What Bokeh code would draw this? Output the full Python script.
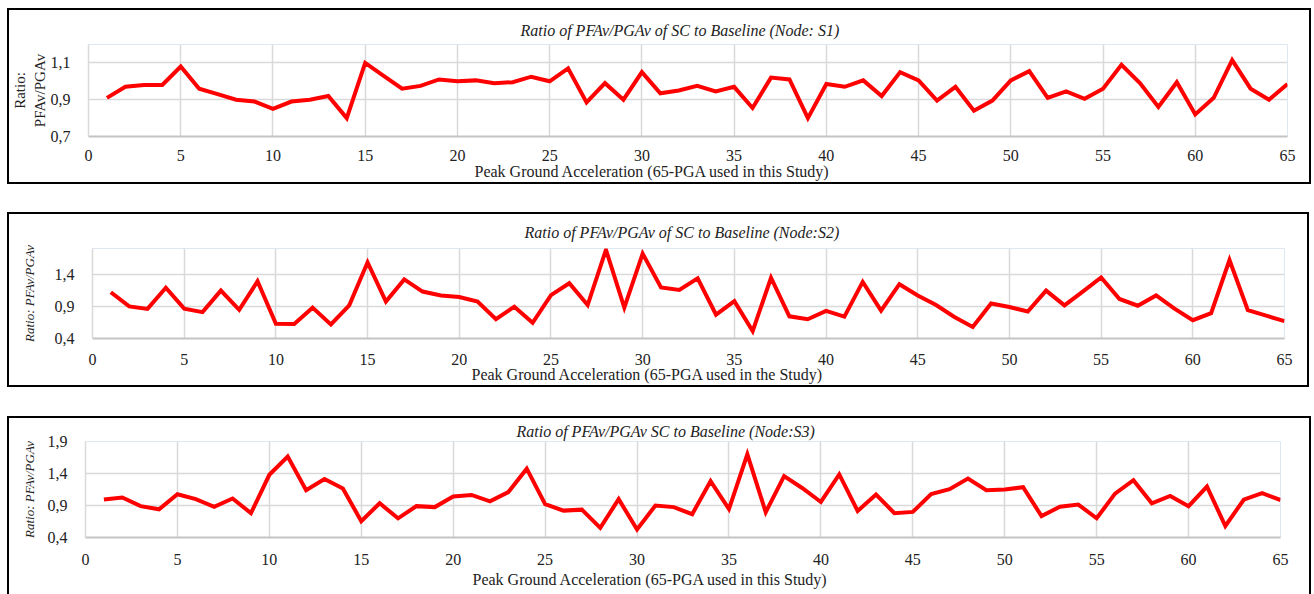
from bokeh.plotting import figure
from bokeh.models import Range1d, FixedTicker, CustomJSTickFormatter, Title
from bokeh.embed import file_html
from bokeh.resources import INLINE

pga = list(range(1, 66))

s1 = [0.91, 0.97, 0.98, 0.98, 1.08, 0.96, 0.93, 0.90, 0.89, 0.85,
      0.89, 0.90, 0.92, 0.80, 1.10, 1.03, 0.96, 0.975, 1.01, 1.00,
      1.005, 0.99, 0.995, 1.025, 1.00, 1.07, 0.885, 0.99, 0.90, 1.05,
      0.935, 0.95, 0.975, 0.945, 0.97, 0.855, 1.02, 1.01, 0.80, 0.985,
      0.97, 1.005, 0.92, 1.05, 1.005, 0.895, 0.97, 0.84, 0.895, 1.005,
      1.055, 0.91, 0.945, 0.905, 0.96, 1.09, 0.99, 0.86, 0.995, 0.82,
      0.91, 1.115, 0.96, 0.90, 0.985]

s2 = [1.12, 0.90, 0.86, 1.19, 0.865, 0.81, 1.145, 0.845, 1.29, 0.63,
      0.625, 0.88, 0.62, 0.915, 1.585, 0.975, 1.32, 1.13, 1.07, 1.045,
      0.975, 0.70, 0.895, 0.645, 1.075, 1.26, 0.92, 1.78, 0.88, 1.72,
      1.195, 1.155, 1.335, 0.77, 0.98, 0.515, 1.345, 0.745, 0.70, 0.83,
      0.74, 1.28, 0.835, 1.245, 1.07, 0.92, 0.735, 0.58, 0.945, 0.89,
      0.82, 1.145, 0.915, 1.13, 1.35, 1.015, 0.91, 1.07, 0.865, 0.685,
      0.795, 1.62, 0.84, 0.755, 0.67]

s3 = [0.995, 1.025, 0.89, 0.84, 1.075, 1.0, 0.88, 1.01, 0.78, 1.38,
      1.665, 1.14, 1.315, 1.165, 0.655, 0.935, 0.70, 0.89, 0.875, 1.04,
      1.065, 0.965, 1.11, 1.475, 0.92, 0.82, 0.835, 0.55, 1.0, 0.525,
      0.90, 0.875, 0.765, 1.28, 0.845, 1.70, 0.795, 1.36, 1.17, 0.955,
      1.385, 0.815, 1.07, 0.78, 0.80, 1.08, 1.155, 1.32, 1.14, 1.15,
      1.185, 0.735, 0.88, 0.915, 0.70, 1.085, 1.295, 0.935, 1.05, 0.89,
      1.195, 0.58, 0.99, 1.095, 0.985]

titles = ["Ratio of PFAv/PGAv of  SC to Baseline (Node: S1)",
          "Ratio of PFAv/PGAv of  SC to Baseline (Node:S2)",
          "Ratio of PFAv/PGAv SC to Baseline (Node:S3)"]
xlabels = ["Peak Ground Acceleration (65-PGA used in this Study)",
           "Peak Ground Acceleration (65-PGA used in the Study)",
           "Peak Ground Acceleration (65-PGA used in this Study)"]
ylabels = ["Ratio:\nPFAv/PGAv", "Ratio: PFAv/PGAv", "Ratio: PFAv/PGAv"]
x_limits = (0, 65)
x_ticks = list(range(0, 66, 5))
y_ticks = [[0.7, 0.9, 1.1], [0.4, 0.9, 1.4], [0.4, 0.9, 1.4, 1.9]]
y_limits = [(0.7, 1.2), (0.4, 1.8), (0.4, 1.9)]

FONT = "'Liberation Serif', 'Times New Roman', serif"
GRID = "#d9d9d9"
TXT = "#222222"

layout_cfg = [
    dict(width=1300, height=172, margin=(10, 0, 0, 9),
         left=77, right=22, top=34, bottom=46,
         yl_style="normal", yl_size="15px", yl_stand=0,
         t_off=432, t_stand=12, xl_off=386, xl_stand=-5, tick_stand=7),
    dict(width=1298, height=171, margin=(32, 0, 0, 9),
         left=83, right=23, top=32, bottom=47,
         yl_style="italic", yl_size="13px", yl_stand=15,
         t_off=432, t_stand=15, xl_off=379, xl_stand=-7, tick_stand=9),
    dict(width=1300, height=179, margin=(33, 0, 0, 9),
         left=76, right=29, top=23, bottom=60,
         yl_style="italic", yl_size="13px", yl_stand=8,
         t_off=431, t_stand=3, xl_off=387, xl_stand=2, tick_stand=10),
]
series = [s1, s2, s3]

figs = []
for i in range(3):
    c = layout_cfg[i]
    y0, y1 = y_limits[i]
    p = figure(width=c["width"], height=c["height"], output_backend="svg",
               toolbar_location=None, x_range=Range1d(*x_limits),
               y_range=Range1d(y0, y1), margin=c["margin"],
               min_border_left=c["left"], min_border_right=c["right"],
               min_border_top=c["top"], min_border_bottom=c["bottom"])
    p.styles = {"outline": "2px solid #000000", "outline-offset": "0px"}
    p.outline_line_color = "#dfe8f2"
    p.outline_line_width = 1

    p.line(pga, series[i], line_color="#ff0000", line_width=4,
           line_join="miter")

    xa = p.xaxis[0]
    xa.ticker = FixedTicker(ticks=x_ticks)
    ya = p.yaxis[0]
    ya.ticker = FixedTicker(ticks=y_ticks[i])
    ya.formatter = CustomJSTickFormatter(code="return tick.toFixed(1).replace('.', ',');")
    ya.axis_label = ylabels[i]
    for ax in (xa, ya):
        ax.major_tick_line_color = None
        ax.minor_tick_line_color = None
        ax.major_label_text_font = FONT
        ax.major_label_text_font_size = "16px"
        ax.major_label_text_color = TXT
    ya.axis_label_text_font = FONT
    ya.axis_label_text_color = TXT
    ya.axis_label_text_font_style = c["yl_style"]
    ya.axis_label_text_font_size = c["yl_size"]
    ya.axis_label_standoff = c["yl_stand"]
    xa.major_label_standoff = c["tick_stand"]
    ya.major_label_standoff = 12
    xa.axis_line_color = "#c4c4c4"
    xa.axis_line_width = 2
    ya.axis_line_color = GRID
    ya.axis_line_width = 1.5

    p.xgrid.grid_line_color = GRID
    p.xgrid.grid_line_width = 1.5
    p.ygrid.grid_line_color = GRID
    p.ygrid.grid_line_width = 1.5

    p.title = Title(text=titles[i], align="left", offset=c["t_off"],
                    standoff=c["t_stand"],
                    text_font=FONT, text_font_size="16px",
                    text_font_style="italic", text_color=TXT)
    p.add_layout(Title(text=xlabels[i], align="left", offset=c["xl_off"],
                       standoff=c["xl_stand"],
                       text_font=FONT, text_font_size="16px",
                       text_font_style="normal", text_color=TXT), "below")
    figs.append(p)

open("out.html", "w").write(file_html(figs, INLINE))
